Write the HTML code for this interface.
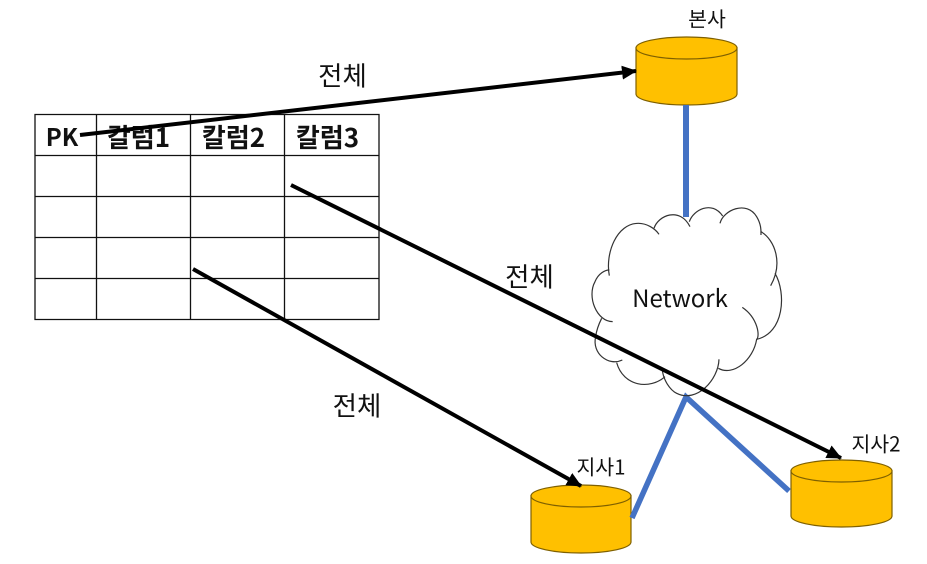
<!DOCTYPE html>
<html lang="ko"><head><meta charset="utf-8"><style>
html,body{margin:0;padding:0;background:#fff;width:927px;height:564px;overflow:hidden}
svg{display:block}
text{font-family:"Liberation Sans","Noto Sans CJK KR",sans-serif;fill:#111}
.k{font-family:"Noto Sans CJK KR",sans-serif}
</style></head><body>
<svg width="927" height="564" viewBox="0 0 927 564">
<defs><marker id="a" markerUnits="userSpaceOnUse" markerWidth="15" markerHeight="14" refX="14" refY="7" orient="auto"><path d="M0 0L15 7L0 14Z" fill="#000"/></marker></defs>
<g stroke="#111" stroke-width="1.300" fill="none">
<path d="M35 114.500H379V319.500H35ZM35 155.500H379M35 196.500H379M35 237.500H379M35 278.500H379M96.500 114.500V319.500M190.500 114.500V319.500M284.500 114.500V319.500"/>
</g>
<g font-size="26" font-weight="700" text-anchor="middle">
<text x="62" y="146" class="k" font-size="24">PK</text>
<text x="138.500" y="147" class="k">칼럼1</text>
<text x="233.500" y="147" class="k">칼럼2</text>
<text x="327.500" y="147" class="k">칼럼3</text>
</g>
<g fill="#FFC000" stroke="#7F6000" stroke-width="1.200">
<path d="M636 48V94A50.500 11 0 0 0 737 94V48Z"/><ellipse cx="686.500" cy="48" rx="50.500" ry="11"/>
<path d="M531 496V542A50 11 0 0 0 631 542V496Z"/><ellipse cx="581" cy="496" rx="50" ry="11"/>
<path d="M791 471V516A50.500 11 0 0 0 892 516V471Z"/><ellipse cx="841.500" cy="471" rx="50.500" ry="11"/>
</g>
<g fill="none" stroke="#4472C4" stroke-width="6">
<path d="M686 105V217"/><path d="M632 518L686 397L789 491" stroke-width="5.500"/>
</g>
<g transform="translate(580 190) scale(.3333)" fill="none" stroke="#333" stroke-width="3.600">
<path d="M88 257C75 190 110 100 175 100C200 100 225 115 237 133"/>
<path d="M222 115C235 75 300 50 330 110"/>
<path d="M328 95C340 60 395 30 428 78"/>
<path d="M420 100C430 60 500 30 530 80C545 105 543 125 543 135"/>
<path d="M543 125C585 150 610 220 572 287"/>
<path d="M585 250C620 310 612 430 530 448"/>
<path d="M487 352C535 385 540 440 530 448C520 510 460 560 415 535"/>
<path d="M417 508C415 570 350 640 290 610C270 600 250 570 247 540"/>
<path d="M255 560C210 600 130 590 110 518"/>
<path d="M127 510C85 530 35 490 47 440C50 415 60 395 65 385"/>
<path d="M98 395C50 395 20 320 45 275C55 250 75 240 88 240"/>
</g>
<g stroke="#000" stroke-width="4" fill="none">
<path d="M80 135L636 71" marker-end="url(#a)"/>
<path d="M291 185L841 458" marker-end="url(#a)"/>
<path d="M193 269L581 486" marker-end="url(#a)"/>
</g>
<text x="680" y="307" font-size="24" text-anchor="middle" class="k">Network</text>
<g font-size="26.500" text-anchor="middle">
<text x="342.500" y="85.500" class="k">전체</text>
<text x="529.500" y="286.500" class="k">전체</text>
<text x="357" y="415.500" class="k">전체</text>
</g>
<g font-size="20.500" text-anchor="middle">
<text x="707" y="26.500" class="k">본사</text>
<text x="601" y="474.500" class="k">지사1</text>
<text x="876" y="451.500" class="k">지사2</text>
</g>
</svg>
</body></html>
